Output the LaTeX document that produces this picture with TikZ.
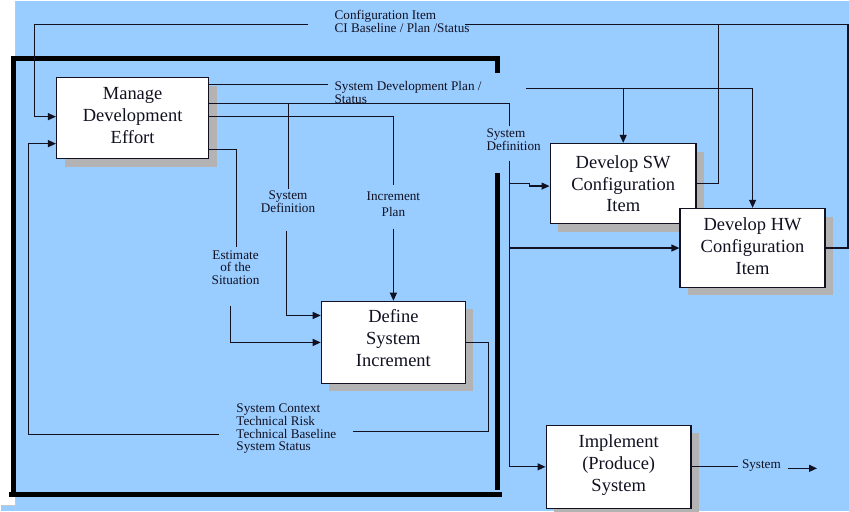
\documentclass[tikz,border=0pt]{standalone}
\usepackage{fontspec}
\setmainfont{Liberation Serif}
\usetikzlibrary{arrows.meta,shadows}
\definecolor{sky}{HTML}{99CCFF}
\definecolor{shade}{HTML}{B3B3B3}
\definecolor{ink}{HTML}{111122}
\definecolor{edge}{HTML}{C8C8C8}

\begin{document}
\begin{tikzpicture}[x=1pt,y=-1pt,
  proc/.style={draw=ink, line width=1.5pt, fill=white, text=ink, align=center,
    font=\fontsize{18.5}{22}\selectfont,
    drop shadow={shadow xshift=8pt, shadow yshift=-8pt, fill=shade, opacity=1}},
  wire/.style={draw=ink, line width=1.2pt},
  flow/.style={wire, -{Triangle[length=8pt,width=7pt]}},
  lbl/.style={inner sep=0pt, text=ink, font=\fontsize{13.2}{13}\selectfont},
  frame/.style={line width=5pt, draw=black}]

% page
\fill[sky] (0,0) rectangle (849,511);
\fill[white] (0,0) rectangle (15,505);
\draw[edge, line width=1.5pt] (15,0) -- (15,505) -- (0,505);

% heavy boundary around the system engineering activities
\draw[frame] (10,57.5) -- (499.5,57.5);
\draw[frame] (497.5,55) -- (497.5,72);
\draw[frame] (12.5,55) -- (12.5,492);
\draw[frame] (8,494.5) -- (502,494.5);
\draw[frame] (497.5,172) -- (497.5,490);

% activities (text depth trims the text position inside each box)
\node[proc, minimum width=152pt, minimum height=81pt, text depth=6pt] (mde) at (132,117.5) {Manage\\Development\\Effort};
\node[proc, minimum width=144pt, minimum height=82pt, text depth=8pt] (dsi) at (393,342) {Define\\System\\Increment};
\node[proc, minimum width=146pt, minimum height=80pt, text depth=-4pt] (sw) at (623,183) {Develop SW\\Configuration\\Item};
\node[proc, minimum width=145pt, minimum height=79pt, text depth=4pt] (hw) at (752.5,247.5) {Develop HW\\Configuration\\Item};
\node[proc, minimum width=145pt, minimum height=83pt, text depth=8pt] (imp) at (618.5,466.5) {Implement\\(Produce)\\System};

% labels
\node[lbl, anchor=north west, align=left] (lci) at (334,9.3) {Configuration Item\\CI Baseline / Plan /Status};
\node[lbl, anchor=north west, align=left] (lsdp) at (334,80) {System Development Plan /\\Status};
\node[lbl, anchor=north west, align=left] (lsd1) at (486,127.5) {System\\Definition};
\node[lbl, anchor=north, align=center] (lsd2) at (287.5,190) {System\\Definition};
\node[lbl, anchor=north, align=center, font=\fontsize{13.2}{16}\selectfont] (lip) at (393,191) {Increment\\Plan};
\node[lbl, anchor=north, align=center, font=\fontsize{13.2}{12.5}\selectfont] (les) at (235,250) {Estimate\\of the\\Situation};
\node[lbl, anchor=north west, align=left] (lctx) at (235.7,402.7) {System Context\\Technical Risk\\Technical Baseline\\System Status};
\node[lbl, anchor=north west] (lsys) at (741.7,459) {System};

% routing points
\coordinate (ciR) at (848,24);
\coordinate (ciA) at (465,24);
\coordinate (ciB) at (308,24);
\coordinate (ciL) at (34,24);
\coordinate (swUp) at (718,24);
\coordinate (sdpA) at (328,84);
\coordinate (sdpB) at (526,88);
\coordinate (sdpSW) at (623,88);
\coordinate (sdTop) at (509,125);
\coordinate (sdBot) at (509,160);
\coordinate (sdMidA) at (288,188);
\coordinate (sdMidB) at (286,230);
\coordinate (ipA) at (393,184);
\coordinate (ipB) at (393,228);
\coordinate (esA) at (236,246);
\coordinate (esB) at (230,306);
\coordinate (ctxA) at (353,431);
\coordinate (ctxB) at (218,434);
\coordinate (ctxL) at (28,434);
\coordinate (outA) at (738,466.5);
\coordinate (outB) at (788,468);
\coordinate (outC) at (817,468);

% configuration item feedback
\draw[wire] (hw.east) -| (ciR) -- (ciA);
\draw[wire] (sw.east) -| (swUp);
\draw[flow] (ciB) -- (ciL) |- ([yshift=1.5pt]mde.west);

% system development plan / status
\draw[wire] ([yshift=33.5pt]mde.east) -- (sdpA);
\draw[flow] (sdpB) -| (hw.north);
\draw[flow] (sdpSW) -- (sw.north);

% system definition
\draw[wire] ([yshift=14.5pt]mde.east) -| (sdTop);
\draw[wire] (sdMidA |- 0,103) -- (sdMidA);
\draw[flow] (sdBot) |- (imp.west);
\draw[flow] (sdBot |- 0,183) -- (529,183) -- (529,185.5) -- ([yshift=-2.5pt]sw.west);
\draw[flow] (hw.west -| sdBot) -- (hw.west);
\draw[flow] (sdMidB) |- ([yshift=27pt]dsi.west);

% increment plan
\draw[wire] ([yshift=1.5pt]mde.east) -| (ipA);
\draw[flow] (ipB) -- (dsi.north);

% estimate of the situation
\draw[wire] ([yshift=-31.5pt]mde.east) -| (esA);
\draw[flow] (esB) |- (dsi.west);

% context, risk, baseline and status back to management
\draw[wire] (dsi.east) -| (488,431) -- (ctxA);
\draw[flow] (ctxB) -- (ctxL) |- ([yshift=-25.5pt]mde.west);

% delivered system
\draw[wire] (imp.east) -- (outA);
\draw[flow] (outB) -- (outC);
\end{tikzpicture}
\end{document}
